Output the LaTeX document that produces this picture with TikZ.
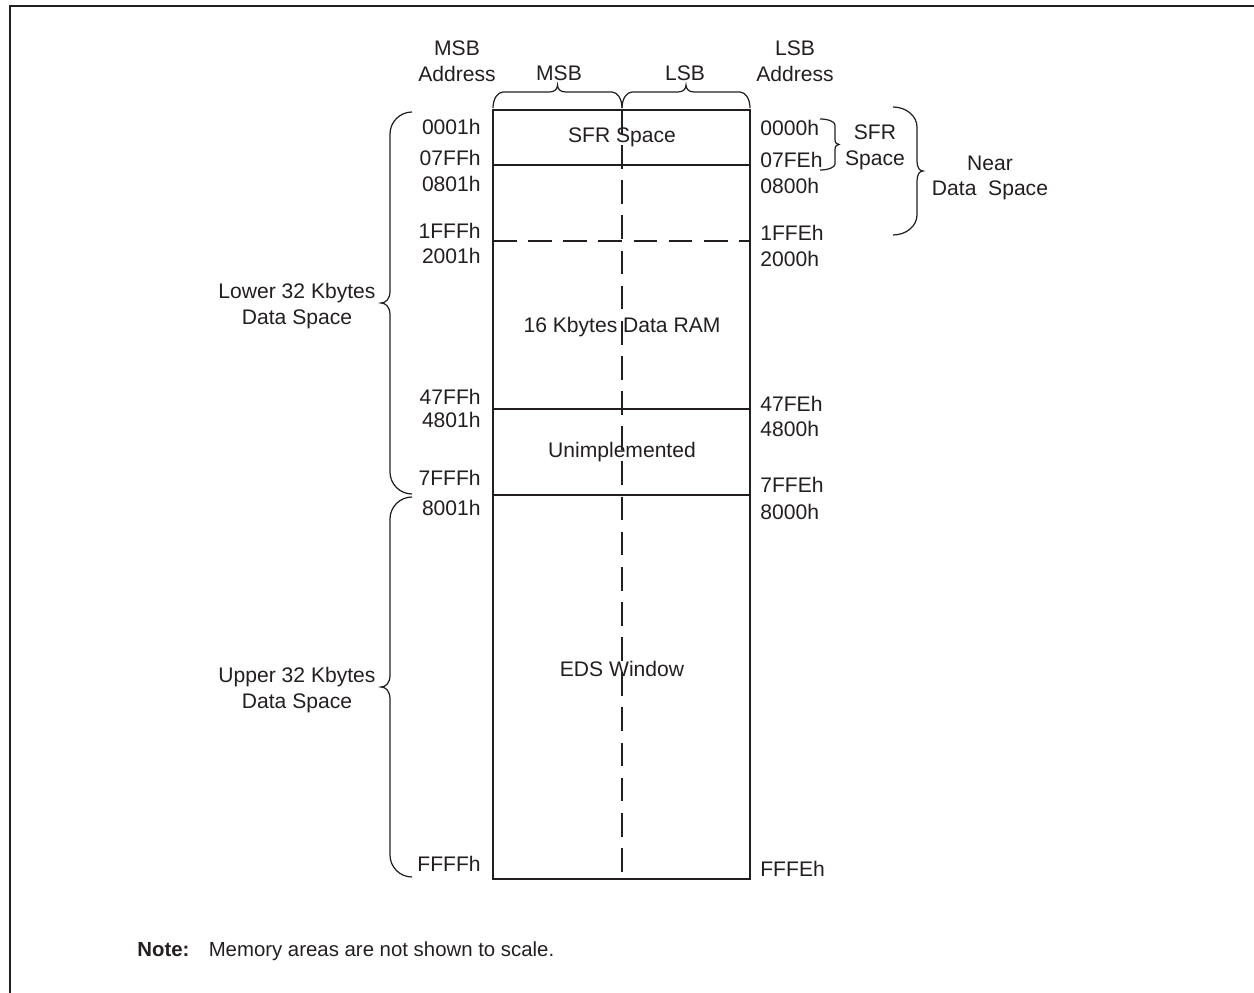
\documentclass[tikz,border=0pt]{standalone}
\usepackage{fontspec}
\setmainfont{Liberation Sans}
\usetikzlibrary{positioning}
\definecolor{ink}{HTML}{231F20}

% curly brace beside the map: ends x, top y, bottom y, straight offset, tip offset, end radius, tip half length
\newcommand{\sidecurl}[7]{%
  \draw[curl] (#1,#2) .. controls ({#1+0.55*#4},#2) and ({#1+#4},{#2+0.45*#6}) .. ({#1+#4},{#2+#6})
    -- ({#1+#4},{(#2+#3)/2-#7}) .. controls ({#1+#4},{(#2+#3)/2-0.3*#7}) and ({#1+0.5*#4+0.5*#5},{(#2+#3)/2}) .. ({#1+#5},{(#2+#3)/2})
    .. controls ({#1+0.5*#4+0.5*#5},{(#2+#3)/2}) and ({#1+#4},{(#2+#3)/2+0.3*#7}) .. ({#1+#4},{(#2+#3)/2+#7})
    -- ({#1+#4},{#3-#6}) .. controls ({#1+#4},{#3-0.45*#6}) and ({#1+0.55*#4},#3) .. (#1,#3);}
% curly brace over a byte column: left x, right x, ends y, straight offset, tip offset, end radius, tip half length
\newcommand{\topcurl}[7]{%
  \draw[curl] (#1,#3) .. controls (#1,{#3-0.55*#4}) and ({#1+0.45*#6},{#3-#4}) .. ({#1+#6},{#3-#4})
    -- ({(#1+#2)/2-#7},{#3-#4}) .. controls ({(#1+#2)/2-0.3*#7},{#3-#4}) and ({(#1+#2)/2},{#3-0.5*#4-0.5*#5}) .. ({(#1+#2)/2},{#3-#5})
    .. controls ({(#1+#2)/2},{#3-0.5*#4-0.5*#5}) and ({(#1+#2)/2+0.3*#7},{#3-#4}) .. ({(#1+#2)/2+#7},{#3-#4})
    -- ({#2-#6},{#3-#4}) .. controls ({#2-0.45*#6},{#3-#4}) and (#2,{#3-0.55*#4}) .. (#2,#3);}

\begin{document}
\begin{tikzpicture}[x=0.02cm, y=-0.02cm,
    font=\fontsize{12}{14.7}\selectfont,
    every node/.style={text=ink, inner sep=0pt},
    wall/.style={draw=ink, line width=1.15pt},
    split/.style={draw=ink, line width=1.15pt, dash pattern=on 13.5pt off 6.5pt},
    curl/.style={draw=ink, line width=0.7pt},
    frame/.style={draw=ink, line width=1.7pt},
    lbl/.style={align=center},
    lo/.style={anchor=east},
    hi/.style={anchor=west}
]
    \useasboundingbox (0,0) rectangle (1254,993);
    \draw[frame] (1254,6) -- (10,6) -- (10,993);

    % the memory block
    \coordinate (memtl) at (493,110);
    \coordinate (membr) at (750,879);
    \coordinate (coltop) at (622,110);
    \coordinate (colbot) at (622,879);
    \draw[wall] (memtl) rectangle (membr);
    \foreach \y in {165,409,495}
        \draw[wall] (493,\y) -- (750,\y);
    \draw[split] (493,241) -- (750,241);
    \draw[split] (coltop) -- (colbot);

    \node (sfr)   at (622,137) {SFR Space};
    \node (ram)   at (622,327) {16 Kbytes Data RAM};
    \node (unimp) at (622,452) {Unimplemented};
    \node (eds)   at (622,669) {EDS Window};

    % column heads
    \node[lbl] (msbaddr) at (457,61) {MSB\\Address};
    \node[lbl] (lsbaddr) at (795,61) {LSB\\Address};
    \node (msb) at (559,73) {MSB};
    \node (lsb) at (685,73) {LSB};
    \topcurl{493}{622}{108}{16}{23}{10}{8}
    \topcurl{622}{750}{108}{16}{23}{10}{8}

    % addresses
    \foreach \t/\y [count=\i] in {0001h/127, 07FFh/158, 0801h/184, 1FFFh/231, 2001h/256,
                                  47FFh/397, 4801h/420, 7FFFh/478, 8001h/508, FFFFh/864}
        \node[lo] (lo\i) at (481,\y) {\t};
    \foreach \t/\y [count=\i] in {0000h/128, 07FEh/160, 0800h/186, 1FFEh/233, 2000h/259,
                                  47FEh/404, 4800h/429, 7FFEh/485, 8000h/512, FFFEh/869}
        \node[hi] (hi\i) at (760,\y) {\t};

    % braces and what they group
    \sidecurl{412}{112}{494}{-22}{-31}{22}{12}
    \sidecurl{412}{497}{877}{-22}{-31}{22}{12}
    \sidecurl{820}{119}{170}{15}{19}{6}{5}
    \sidecurl{893}{107}{235}{24}{30}{20}{10}
    \node[lbl] (lowdata) at (297,306) {Lower 32 Kbytes\\Data Space};
    \node[lbl] (updata)  at (297,690) {Upper 32 Kbytes\\Data Space};
    \node[lbl] (sfrdata) at (875,147) {SFR\\Space};
    \node[lbl] (neardata) at (990,178) {Near\\Data\ \ Space};

    \node[anchor=west, font=\fontsize{11.6}{14}\selectfont] (note) at (137,951)
        {\textbf{Note:}\hspace{11pt}Memory areas are not shown to scale.};
\end{tikzpicture}
\end{document}
